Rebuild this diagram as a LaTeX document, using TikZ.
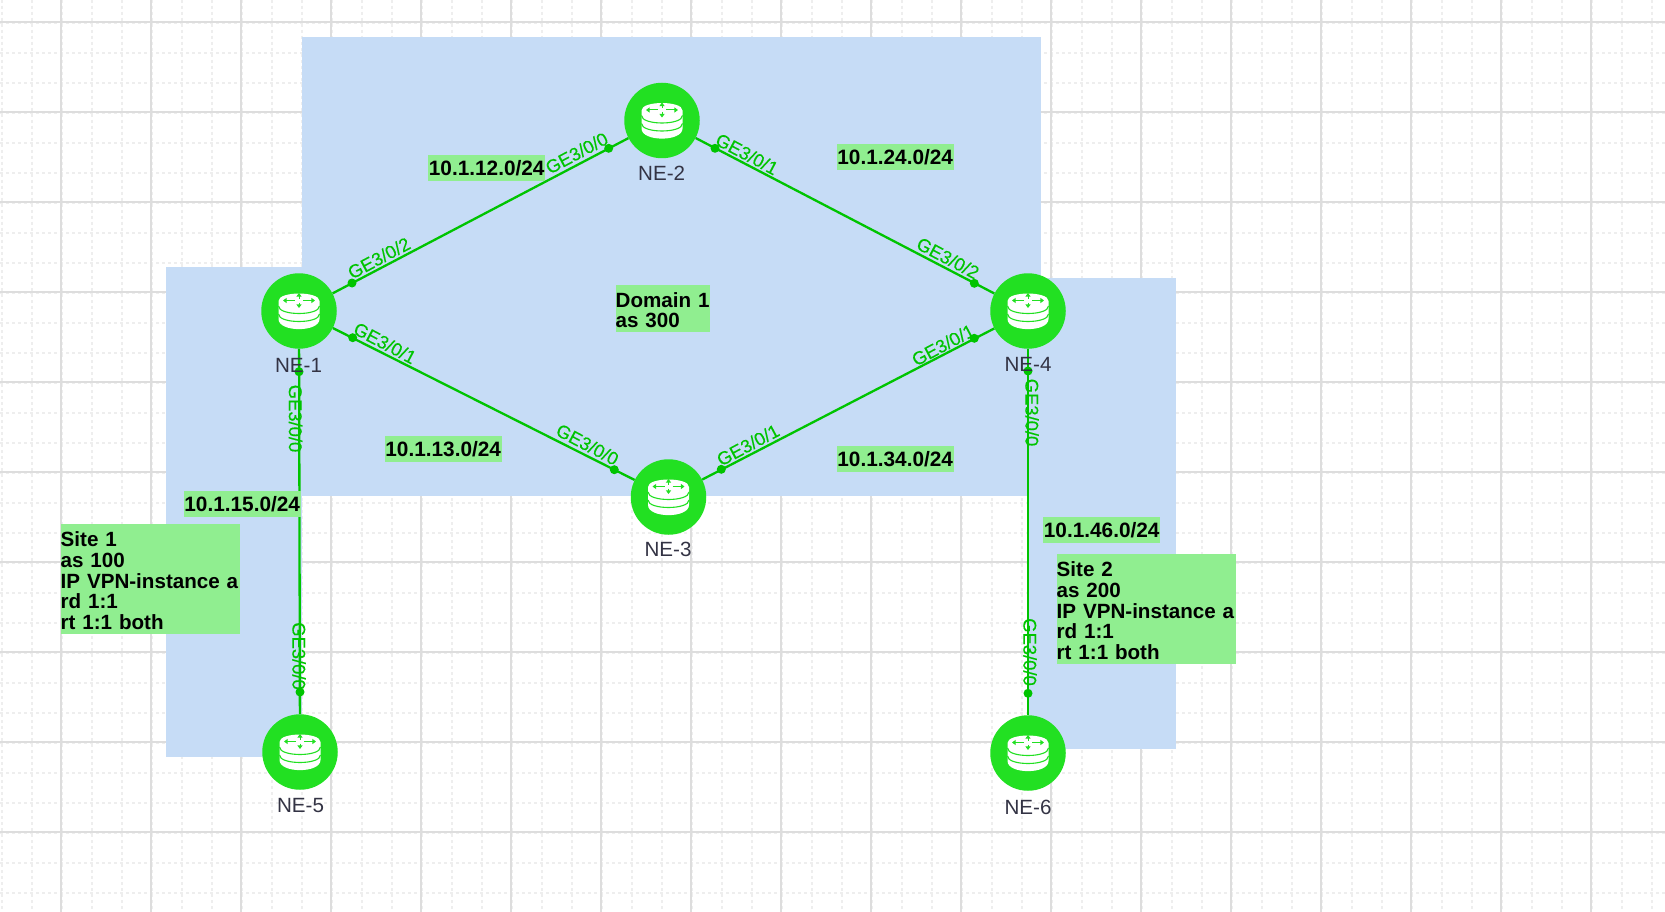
\documentclass[tikz,border=0pt]{standalone}
\usepackage{fontspec}
\setmainfont{Liberation Sans}
\newfontface\portface[FakeBold=0.25]{Liberation Sans}
\usetikzlibrary{arrows.meta}
\definecolor{gridmajor}{HTML}{DDDDDD}
\definecolor{gridminor}{HTML}{EEEEEE}
\definecolor{zoneblue}{HTML}{C6DCF6}
\definecolor{notegreen}{HTML}{90EE90}
\definecolor{routergreen}{HTML}{22E022}
\definecolor{linkgreen}{HTML}{00C400}
\definecolor{nametext}{HTML}{333344}
\newcommand{\firstline}{\rule{0pt}{18pt}}
\tikzset{
  x=1pt,y=-1pt,
  majorline/.style={draw=gridmajor,line width=2pt},
  minorline/.style={draw=gridminor,line width=2pt,dash pattern=on 3pt off 3pt},
  zone/.style={fill=zoneblue},
  router/.style={circle,fill=routergreen,minimum size=75.5pt,inner sep=0pt},
  link/.style={draw=linkgreen,line width=2.3pt},
  portdot/.style={circle,fill=linkgreen,minimum size=9pt,inner sep=0pt},
  portlabel/.style={text=linkgreen,inner sep=0pt,font=\portface\fontsize{18.4}{21}\selectfont},
  namelabel/.style={text=nametext,anchor=base,inner sep=0pt,font=\fontsize{20.6}{21}\selectfont},
  netnote/.style={fill=notegreen,text=black,anchor=north west,inner sep=0pt,minimum width=117pt,minimum height=26pt,font=\bfseries\fontsize{20.8}{21}\selectfont},
  blocknote/.style={fill=notegreen,text=black,anchor=north west,inner sep=0pt,align=left,font=\bfseries\fontsize{20.6}{20.8}\selectfont},
  routericon/.pic={
    \fill[white] (-20.5,-10) .. controls (-20.5,-20) and (20.5,-20) .. (20.5,-10)
      -- (20.5,8) .. controls (20.5,21.5) and (-20.5,21.5) .. (-20.5,8) -- cycle;
    \draw[routergreen,line width=1.1pt] (-20.5,-5) .. controls (-20.5,5) and (20.5,5) .. (20.5,-5);
    \draw[routergreen,line width=1.1pt] (-20.5,3) .. controls (-20.5,13) and (20.5,13) .. (20.5,3);
    \begin{scope}[routergreen,line width=1pt,-{Triangle[length=3.6pt,width=5pt]}]
      \draw (-4,-10.5) -- (-16,-10.5);
      \draw (4,-10.5) -- (16,-10.5);
      \draw (0,-12.5) -- (0,-18);
      \draw (0,-8.5) -- (0,-3);
    \end{scope}
  }
}
\begin{document}
\begin{tikzpicture}
\useasboundingbox (0,0) rectangle (1665,912);
\fill[white] (0,0) rectangle (1665,912);
% grid
\foreach \k in {0,...,55} {
  \pgfmathsetmacro{\gx}{2+30*\k}
  \draw[minorline] (\gx,0) -- (\gx,912);
}
\foreach \k in {0,...,29} {
  \pgfmathsetmacro{\gy}{22.7+30*\k}
  \draw[minorline] (0,\gy) -- (1665,\gy);
}
\foreach \k in {0,...,17} {
  \pgfmathsetmacro{\gx}{61+90*\k}
  \draw[majorline] (\gx,0) -- (\gx,912);
}
\foreach \k in {0,...,9} {
  \pgfmathsetmacro{\gy}{21.7+90*\k}
  \draw[majorline] (0,\gy) -- (1665,\gy);
}
% zones
\fill[zone] (166,267) rectangle (302,757);
\fill[zone] (1028,278) rectangle (1176,749);
\fill[zone] (302,37) rectangle (1041,496);
% routers
\node[router] (ne1) at (299,311) {};
\node[router] (ne2) at (662,120.5) {};
\node[router] (ne3) at (668.5,497) {};
\node[router] (ne4) at (1028,311) {};
\node[router] (ne5) at (300,752) {};
\node[router] (ne6) at (1028,753) {};
\foreach \r in {ne1,ne2,ne3,ne4,ne5,ne6} { \pic at (\r) {routericon}; }
% links
\draw[link] (ne1) -- (ne2);
\draw[link] (ne2) -- (ne4);
\draw[link] (ne1) -- (ne3);
\draw[link] (ne3) -- (ne4);
\draw[link] (ne1) -- (ne5);
\draw[link] (ne4) -- (ne6);
% port dots
\node[portdot] (p1a) at (352,283) {};
\node[portdot] (p1b) at (352.7,337.7) {};
\node[portdot] (p1c) at (299,371.7) {};
\node[portdot] (p2a) at (608.7,148.3) {};
\node[portdot] (p2b) at (715,148.3) {};
\node[portdot] (p3a) at (614.3,469.7) {};
\node[portdot] (p3b) at (721.3,469.3) {};
\node[portdot] (p4a) at (974.3,283.3) {};
\node[portdot] (p4b) at (974.3,338.3) {};
\node[portdot] (p4c) at (1028,371) {};
\node[portdot] (p5) at (300,692) {};
\node[portdot] (p6) at (1028,693.3) {};
% port labels
\node[portlabel,rotate=28] (l1a) at (379,258) {GE3/0/2};
\node[portlabel,rotate=-28] (l1b) at (385,343) {GE3/0/1};
\node[portlabel,rotate=-90] (l1c) at (295.5,418.5) {GE3/0/0};
\node[portlabel,rotate=28] (l2a) at (576.7,153) {GE3/0/0};
\node[portlabel,rotate=-28] (l2b) at (747,154) {GE3/0/1};
\node[portlabel,rotate=-28] (l3a) at (587.5,444.5) {GE3/0/0};
\node[portlabel,rotate=28] (l3b) at (748,445) {GE3/0/1};
\node[portlabel,rotate=-28] (l4a) at (948,258) {GE3/0/2};
\node[portlabel,rotate=28] (l4b) at (943,345) {GE3/0/1};
\node[portlabel,rotate=-90] (l4c) at (1032,412.5) {GE3/0/0};
\node[portlabel,rotate=-90] (l5) at (299,656) {GE3/0/0};
\node[portlabel,rotate=-90] (l6) at (1030,652) {GE3/0/0};
% router names
\node[namelabel] (n1) at (298.5,372) {NE-1};
\node[namelabel] (n2) at (661.7,180.7) {NE-2};
\node[namelabel] (n3) at (668,556.7) {NE-3};
\node[namelabel] (n4) at (1028,371) {NE-4};
\node[namelabel] (n5) at (300.5,812) {NE-5};
\node[namelabel] (n6) at (1028,814) {NE-6};
% notes
\node[netnote] (net12) at (428,155) {10.1.12.0/24};
\node[netnote] (net24) at (836.5,143.5) {10.1.24.0/24};
\node[netnote] (net13) at (384.5,435.5) {10.1.13.0/24};
\node[netnote] (net34) at (836.5,446) {10.1.34.0/24};
\node[netnote] (net15) at (183.5,491) {10.1.15.0/24};
\node[netnote] (net46) at (1043,516.5) {10.1.46.0/24};
\node[blocknote,minimum width=94.5pt,minimum height=47pt,text width=94.5pt] (dom) at (615.5,285) {\firstline\mbox{Domain 1}\\\mbox{as 300}};
\node[blocknote,minimum width=179pt,minimum height=110pt,text width=179pt] (site1) at (60.5,524) {\firstline\mbox{Site 1}\\\mbox{as 100}\\\mbox{IP VPN-instance a}\\\mbox{rd 1:1}\\\mbox{rt 1:1 both}};
\node[blocknote,minimum width=179pt,minimum height=110pt,text width=179pt] (site2) at (1056.5,554) {\firstline\mbox{Site 2}\\\mbox{as 200}\\\mbox{IP VPN-instance a}\\\mbox{rd 1:1}\\\mbox{rt 1:1 both}};
\end{tikzpicture}
\end{document}
